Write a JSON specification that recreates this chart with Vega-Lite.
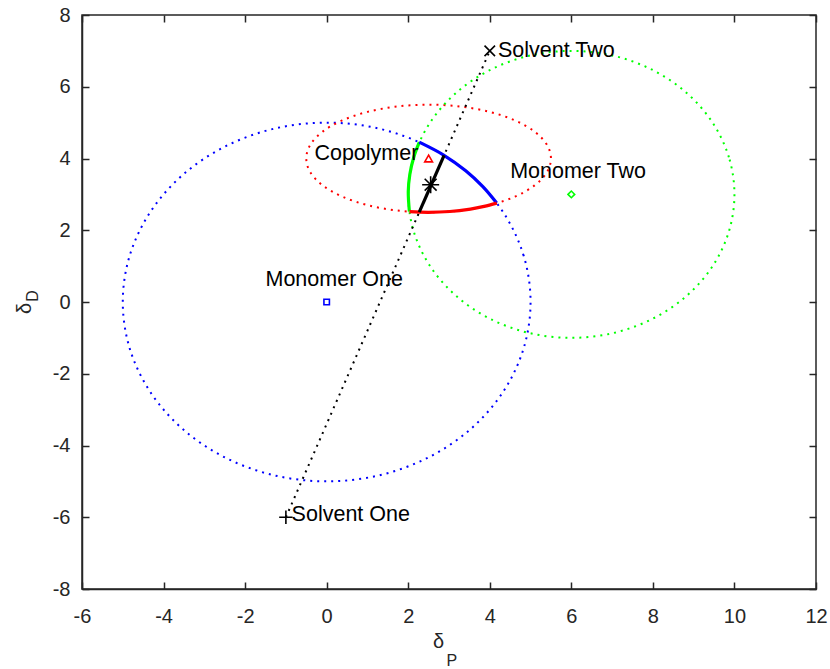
{
  "$schema": "https://vega.github.io/schema/vega-lite/v6.json",
  "width": 734,
  "height": 574,
  "autosize": {"type": "none"},
  "padding": {"left": 82, "top": 15, "right": 14, "bottom": 80},
  "background": "white",
  "config": {
    "view": {"stroke": "#262626", "strokeWidth": 1.5},
    "axis": {
      "domainColor": "#262626", "domainWidth": 1.5,
      "tickColor": "#262626", "tickWidth": 1.5, "tickSize": -7,
      "labelColor": "#262626", "labelFont": "Liberation Sans", "labelFontSize": 20,
      "labelFlush": false, "labelOverlap": false, "labelBound": false,
      "labelExpr": "'' + datum.value",
      "grid": false,
      "titleFont": "Liberation Sans", "titleFontWeight": "normal", "titleColor": "#262626", "titleFontSize": 20
    },
    "text": {"font": "Liberation Sans"}
  },
  "datasets": {
    "ellipses": [
      {"c": "blue", "i": 0, "x": 5, "y": 0}, {"c": "blue", "i": 1, "x": 4.83, "y": 1.294}, {"c": "blue", "i": 2, "x": 4.33, "y": 2.5}, {"c": "blue", "i": 3, "x": 3.536, "y": 3.536},
      {"c": "blue", "i": 4, "x": 2.5, "y": 4.33}, {"c": "blue", "i": 5, "x": 1.294, "y": 4.83}, {"c": "blue", "i": 6, "x": 0, "y": 5}, {"c": "blue", "i": 7, "x": -1.294, "y": 4.83},
      {"c": "blue", "i": 8, "x": -2.5, "y": 4.33}, {"c": "blue", "i": 9, "x": -3.536, "y": 3.536}, {"c": "blue", "i": 10, "x": -4.33, "y": 2.5}, {"c": "blue", "i": 11, "x": -4.83, "y": 1.294},
      {"c": "blue", "i": 12, "x": -5, "y": 0}, {"c": "blue", "i": 13, "x": -4.83, "y": -1.294}, {"c": "blue", "i": 14, "x": -4.33, "y": -2.5}, {"c": "blue", "i": 15, "x": -3.536, "y": -3.536},
      {"c": "blue", "i": 16, "x": -2.5, "y": -4.33}, {"c": "blue", "i": 17, "x": -1.294, "y": -4.83}, {"c": "blue", "i": 18, "x": 0, "y": -5}, {"c": "blue", "i": 19, "x": 1.294, "y": -4.83},
      {"c": "blue", "i": 20, "x": 2.5, "y": -4.33}, {"c": "blue", "i": 21, "x": 3.536, "y": -3.536}, {"c": "blue", "i": 22, "x": 4.33, "y": -2.5}, {"c": "blue", "i": 23, "x": 4.83, "y": -1.294},

      {"c": "red", "i": 0, "x": 5.5, "y": 4}, {"c": "red", "i": 1, "x": 5.398, "y": 4.388}, {"c": "red", "i": 2, "x": 5.098, "y": 4.75}, {"c": "red", "i": 3, "x": 4.621, "y": 5.061},
      {"c": "red", "i": 4, "x": 4.0, "y": 5.299}, {"c": "red", "i": 5, "x": 3.276, "y": 5.449}, {"c": "red", "i": 6, "x": 2.5, "y": 5.5}, {"c": "red", "i": 7, "x": 1.724, "y": 5.449},
      {"c": "red", "i": 8, "x": 1.0, "y": 5.299}, {"c": "red", "i": 9, "x": 0.379, "y": 5.061}, {"c": "red", "i": 10, "x": -0.098, "y": 4.75}, {"c": "red", "i": 11, "x": -0.398, "y": 4.388},
      {"c": "red", "i": 12, "x": -0.5, "y": 4}, {"c": "red", "i": 13, "x": -0.398, "y": 3.612}, {"c": "red", "i": 14, "x": -0.098, "y": 3.25}, {"c": "red", "i": 15, "x": 0.379, "y": 2.939},
      {"c": "red", "i": 16, "x": 1.0, "y": 2.701}, {"c": "red", "i": 17, "x": 1.724, "y": 2.551}, {"c": "red", "i": 18, "x": 2.5, "y": 2.5}, {"c": "red", "i": 19, "x": 3.276, "y": 2.551},
      {"c": "red", "i": 20, "x": 4.0, "y": 2.701}, {"c": "red", "i": 21, "x": 4.621, "y": 2.939}, {"c": "red", "i": 22, "x": 5.098, "y": 3.25}, {"c": "red", "i": 23, "x": 5.398, "y": 3.612},

      {"c": "green", "i": 0, "x": 10, "y": 3}, {"c": "green", "i": 1, "x": 9.864, "y": 4.035}, {"c": "green", "i": 2, "x": 9.464, "y": 5}, {"c": "green", "i": 3, "x": 8.828, "y": 5.828},
      {"c": "green", "i": 4, "x": 8, "y": 6.464}, {"c": "green", "i": 5, "x": 7.035, "y": 6.864}, {"c": "green", "i": 6, "x": 6, "y": 7}, {"c": "green", "i": 7, "x": 4.965, "y": 6.864},
      {"c": "green", "i": 8, "x": 4, "y": 6.464}, {"c": "green", "i": 9, "x": 3.172, "y": 5.828}, {"c": "green", "i": 10, "x": 2.536, "y": 5}, {"c": "green", "i": 11, "x": 2.136, "y": 4.035},
      {"c": "green", "i": 12, "x": 2, "y": 3}, {"c": "green", "i": 13, "x": 2.136, "y": 1.965}, {"c": "green", "i": 14, "x": 2.536, "y": 1}, {"c": "green", "i": 15, "x": 3.172, "y": 0.172},
      {"c": "green", "i": 16, "x": 4, "y": -0.464}, {"c": "green", "i": 17, "x": 4.965, "y": -0.864}, {"c": "green", "i": 18, "x": 6, "y": -1}, {"c": "green", "i": 19, "x": 7.035, "y": -0.864},
      {"c": "green", "i": 20, "x": 8, "y": -0.464}, {"c": "green", "i": 21, "x": 8.828, "y": 0.172}, {"c": "green", "i": 22, "x": 9.464, "y": 1}, {"c": "green", "i": 23, "x": 9.864, "y": 1.965}
    ],
    "solventLine": [
      {"i": 0, "x": -1, "y": -6},
      {"i": 1, "x": 4, "y": 7}
    ],
    "arcs": [
      {"c": "green", "i": 0, "x": 2.273, "y": 4.454}, {"c": "green", "i": 1, "x": 2.136, "y": 4.035}, {"c": "green", "i": 2, "x": 2.039, "y": 3.557}, {"c": "green", "i": 3, "x": 2.001, "y": 3.07}, {"c": "green", "i": 4, "x": 2.029, "y": 2.519},
      {"c": "blue", "i": 0, "x": 2.27, "y": 4.455}, {"c": "blue", "i": 1, "x": 2.868, "y": 4.096}, {"c": "blue", "i": 2, "x": 3.41, "y": 3.657}, {"c": "blue", "i": 3, "x": 3.83, "y": 3.214}, {"c": "blue", "i": 4, "x": 4.169, "y": 2.758},
      {"c": "red", "i": 0, "x": 2.031, "y": 2.518}, {"c": "red", "i": 1, "x": 2.5, "y": 2.5}, {"c": "red", "i": 2, "x": 3.021, "y": 2.523}, {"c": "red", "i": 3, "x": 3.526, "y": 2.59}, {"c": "red", "i": 4, "x": 3.862, "y": 2.664}, {"c": "red", "i": 5, "x": 4.169, "y": 2.756},
      {"c": "black", "i": 0, "x": 2.27, "y": 2.503}, {"c": "black", "i": 1, "x": 2.88, "y": 4.087}
    ],
    "points": [
      {"name": "Monomer One", "k": "square", "x": 0, "y": 0, "lx": -1.5, "ly": 0.6},
      {"name": "Monomer Two", "k": "diamond", "x": 6, "y": 3, "lx": 4.5, "ly": 3.62},
      {"name": "Copolymer", "k": "triangle", "x": 2.5, "y": 4, "lx": -0.3, "ly": 4.12},
      {"name": "Solvent One", "k": "plus", "x": -1, "y": -6, "lx": -0.86, "ly": -5.93},
      {"name": "Solvent Two", "k": "times", "x": 4, "y": 7, "lx": 4.2, "ly": 7.0},
      {"name": "", "k": "star", "x": 2.55, "y": 3.27, "lx": 2.55, "ly": 3.27}
    ],
    "subscripts": [
      {"t": "P", "axis": "x", "x": 3.07, "y": -10.0},
      {"t": "D", "axis": "y", "x": -7.2, "y": 0.17}
    ]
  },
  "resolve": {"axis": {"x": "independent", "y": "independent"}, "scale": {"color": "independent"}},
  "layer": [
    {
      "data": {"name": "ellipses"},
      "mark": {"type": "line", "interpolate": "cardinal-closed", "strokeWidth": 2, "strokeDash": [2, 5], "strokeCap": "butt"},
      "encoding": {
        "x": {"field": "x", "type": "quantitative", "scale": {"domain": [-6, 12], "nice": false, "zero": false},
              "axis": {"orient": "bottom", "values": [-6, -4, -2, 0, 2, 4, 6, 8, 10, 12], "labelPadding": 24, "title": "δ",
                       "titleX": 356, "titleY": 58, "titleBaseline": "alphabetic", "titleAlign": "center", "titleAnchor": null}},
        "y": {"field": "y", "type": "quantitative", "scale": {"domain": [-8, 8], "nice": false, "zero": false},
              "axis": {"orient": "left", "values": [-8, -6, -4, -2, 0, 2, 4, 6, 8], "labelPadding": 19, "title": "δ",
                       "titleAngle": 270, "titleX": -52, "titleY": 293, "titleBaseline": "alphabetic", "titleAlign": "center", "titleAnchor": null}},
        "detail": {"field": "c", "type": "nominal"},
        "color": {"field": "c", "type": "nominal", "legend": null,
                  "scale": {"domain": ["blue", "red", "green", "black"], "range": ["#0000ff", "#ff0000", "#00ff00", "#000000"]}},
        "order": {"field": "i", "type": "quantitative"}
      }
    },
    {
      "data": {"name": "solventLine"},
      "mark": {"type": "line", "color": "#000000", "strokeWidth": 2, "strokeDash": [2, 5], "strokeCap": "butt"},
      "encoding": {
        "x": {"field": "x", "type": "quantitative", "scale": {"domain": [-6, 12], "nice": false, "zero": false},
              "axis": {"orient": "top", "values": [-6, -4, -2, 0, 2, 4, 6, 8, 10, 12], "labels": false, "domain": false, "title": null}},
        "y": {"field": "y", "type": "quantitative", "scale": {"domain": [-8, 8], "nice": false, "zero": false},
              "axis": {"orient": "right", "values": [-8, -6, -4, -2, 0, 2, 4, 6, 8], "labels": false, "domain": false, "title": null}},
        "order": {"field": "i", "type": "quantitative"}
      }
    },
    {
      "data": {"name": "arcs"},
      "mark": {"type": "line", "interpolate": "cardinal", "strokeWidth": 3.2, "strokeCap": "butt"},
      "encoding": {
        "x": {"field": "x", "type": "quantitative", "scale": {"domain": [-6, 12], "nice": false, "zero": false}, "axis": null},
        "y": {"field": "y", "type": "quantitative", "scale": {"domain": [-8, 8], "nice": false, "zero": false}, "axis": null},
        "detail": {"field": "c", "type": "nominal"},
        "color": {"field": "c", "type": "nominal", "legend": null,
                  "scale": {"domain": ["blue", "red", "green", "black"], "range": ["#0000ff", "#ff0000", "#00ff00", "#000000"]}},
        "order": {"field": "i", "type": "quantitative"}
      }
    },
    {
      "data": {"name": "points"},
      "mark": {"type": "point", "filled": false, "strokeWidth": 1.6, "opacity": 1},
      "encoding": {
        "x": {"field": "x", "type": "quantitative", "scale": {"domain": [-6, 12], "nice": false, "zero": false}, "axis": null},
        "y": {"field": "y", "type": "quantitative", "scale": {"domain": [-8, 8], "nice": false, "zero": false}, "axis": null},
        "shape": {"field": "k", "type": "nominal", "legend": null,
                  "scale": {"domain": ["square", "diamond", "triangle", "plus", "times", "star"],
                            "range": ["square", "diamond", "triangle-up", "M-1,0L1,0M0,-1L0,1", "M-1,-1L1,1M-1,1L1,-1", "M-1,0L1,0M0,-1L0,1M-0.7,-0.7L0.7,0.7M-0.7,0.7L0.7,-0.7"]}},
        "size": {"field": "k", "type": "nominal", "legend": null,
                 "scale": {"type": "ordinal", "domain": ["square", "diamond", "triangle", "plus", "times", "star"], "range": [30, 45, 60, 180, 110, 290]}},
        "color": {"field": "k", "type": "nominal", "legend": null,
                  "scale": {"domain": ["square", "diamond", "triangle", "plus", "times", "star"], "range": ["#0000ff", "#00ff00", "#ff0000", "#000000", "#000000", "#000000"]}}
      }
    },
    {
      "data": {"name": "points"},
      "mark": {"type": "text", "align": "left", "baseline": "middle", "fontSize": 21.5, "color": "#000000"},
      "encoding": {
        "x": {"field": "lx", "type": "quantitative", "scale": {"domain": [-6, 12], "nice": false, "zero": false}, "axis": null},
        "y": {"field": "ly", "type": "quantitative", "scale": {"domain": [-8, 8], "nice": false, "zero": false}, "axis": null},
        "text": {"field": "name"}
      }
    },
    {
      "data": {"name": "subscripts"},
      "mark": {"type": "text", "align": "center", "baseline": "middle", "fontSize": 16, "color": "#262626"},
      "encoding": {
        "x": {"field": "x", "type": "quantitative", "scale": {"domain": [-6, 12], "nice": false, "zero": false}, "axis": null},
        "y": {"field": "y", "type": "quantitative", "scale": {"domain": [-8, 8], "nice": false, "zero": false}, "axis": null},
        "angle": {"field": "axis", "type": "nominal", "legend": null, "scale": {"domain": ["x", "y"], "range": [0, 270]}},
        "text": {"field": "t"}
      }
    }
  ]
}
